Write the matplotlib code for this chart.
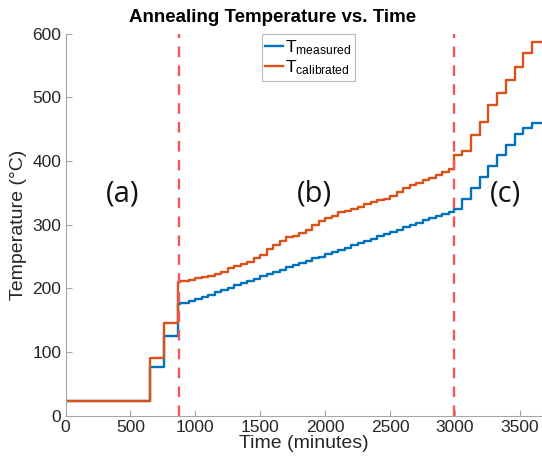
import numpy as np
import matplotlib.pyplot as plt

# --- data ---
# early ramp segment (a), time in minutes
t_early = [0, 625, 650, 755, 868]
T_meas_early = [23, 23, 76, 125, 175]
T_cal_early = [23, 23, 91, 146, 210]

# region (b): slow staircase
t_mid = [880, 950, 1000, 1050, 1100, 1150, 1200, 1250, 1300, 1350, 1400,
         1450, 1500, 1550, 1600, 1650, 1700, 1750, 1800, 1850, 1900, 1950,
         2000, 2050, 2100, 2150, 2200, 2250, 2300, 2350, 2400, 2450, 2500,
         2550, 2600, 2650, 2700, 2750, 2800, 2850, 2900, 2950]
T_meas_mid = [177, 180, 184, 187, 190, 194, 198, 201, 205, 208, 212,
              215, 219, 222, 226, 229, 233, 236, 240, 243, 247, 250,
              254, 257, 261, 264, 268, 271, 275, 278, 282, 285, 289,
              292, 296, 299, 303, 307, 310, 314, 317, 320]
T_cal_mid = [211, 213, 216, 218, 220, 222, 226, 232, 235, 238, 242,
             247, 252, 262, 268, 275, 280, 283, 287, 292, 300, 305,
             310, 314, 320, 322, 325, 328, 332, 336, 338, 341, 345,
             352, 357, 362, 366, 370, 374, 378, 383, 388]

# region (c): larger steps
t_late = [2990, 3055, 3125, 3190, 3255, 3320, 3390, 3460, 3525, 3595, 3670]
T_meas_late = [324, 340, 358, 375, 392, 410, 425, 442, 452, 460, 460]
T_cal_late = [410, 415, 440, 461, 488, 507, 527, 547, 569, 587, 587]

region_bounds = [870, 2995]
region_labels = ['(a)', '(b)', '(c)']
label_x = [440, 1920, 3390]
label_y = 348

t = t_early + t_mid + t_late
T_meas = T_meas_early + T_meas_mid + T_meas_late
T_cal = T_cal_early + T_cal_mid + T_cal_late

plt.rcParams['font.family'] = ['Liberation Sans', 'DejaVu Sans']

fig = plt.figure(figsize=(5.42, 4.59), dpi=100)
ax = fig.add_axes([0.121, 0.094, 0.879, 0.833])

ax.plot(t, T_meas, color='#0072BD', lw=1.7, drawstyle='steps-post',
        label=r'T$\mathregular{_{measured}}$')
ax.plot(t, T_cal, color='#D95319', lw=1.7, drawstyle='steps-post',
        label=r'T$\mathregular{_{calibrated}}$')

for xb in region_bounds:
    ax.axvline(xb, color='#F2575A', lw=1.7, ls=(0, (4.5, 3.5)))

for lab, lx in zip(region_labels, label_x):
    ax.text(lx, label_y, lab, fontsize=21, ha='center', va='center',
            family=['Open Sans', 'DejaVu Sans'], color='#111111')

ax.set_xlim(0, 3670)
ax.set_ylim(0, 600)
ax.set_xticks(np.arange(0, 3501, 500))
ax.set_yticks(np.arange(0, 601, 100))
for s in ['top', 'right']:
    ax.spines[s].set_visible(False)
for s in ['left', 'bottom']:
    ax.spines[s].set_color('#a6a6a6')
ax.tick_params(direction='in', length=4, color='#a6a6a6', labelsize=12.5,
               labelcolor='#262626', pad=3)

ax.set_xlabel('Time (minutes)', fontsize=14, color='#262626', labelpad=0)
ax.set_ylabel('Temperature (°C)', fontsize=14, color='#262626', labelpad=4)

fig.text(0.502, 0.962, 'Annealing Temperature vs. Time', ha='center',
         va='center', fontsize=13.5, fontweight='bold')

leg = ax.legend(loc='upper left', bbox_to_anchor=(0.483, 0.925),
                bbox_transform=fig.transFigure, fontsize=12.5,
                handlelength=1.0, handletextpad=0.15, borderpad=0.2,
                labelspacing=0.1, fancybox=False, borderaxespad=0)
leg.get_frame().set_edgecolor('#a6a6a6')
leg.get_frame().set_linewidth(0.8)

fig.savefig('out.png', dpi=100)
